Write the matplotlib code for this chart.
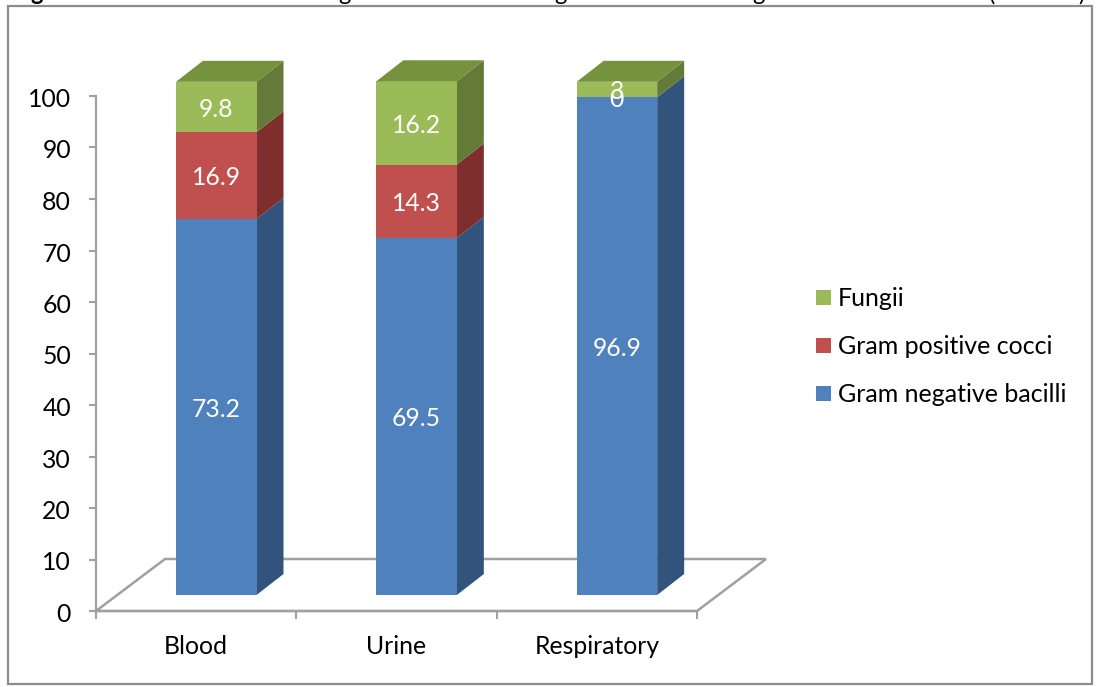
import matplotlib
matplotlib.use("Agg")
import matplotlib.pyplot as plt
from matplotlib.patches import Polygon, Rectangle
from matplotlib.transforms import ScaledTranslation

plt.rcParams["font.family"] = ["Lato", "DejaVu Sans"]

sites = ["Blood", "Urine", "Respiratory"]
gram_negative = [73.2, 69.5, 96.9]
gram_positive = [16.9, 14.3, 0]
fungi = [9.8, 16.2, 3]
y_ticks = list(range(0, 101, 10))

W, H = 1096, 687
fig = plt.figure(figsize=(W / 100, H / 100), dpi=100)
fig.patch.set_facecolor("white")

# Plot area in pixels: x 96..697 spans the three categories, y 611..96 spans 0..100
ax = fig.add_axes([96 / W, 1 - 611 / H, (697 - 96) / W, (611 - 96) / H])
ax.set_xlim(0, 3)
ax.set_ylim(0, 100)
ax.patch.set_alpha(0)
px = 3 / (697 - 96)
py = 100 / (611 - 96)

GRID = "#a0a0a0"
for side in ("top", "right"):
    ax.spines[side].set_visible(False)
for side in ("left", "bottom"):
    ax.spines[side].set_color(GRID)
    ax.spines[side].set_linewidth(1.6)

ax.set_yticks(y_ticks)
ax.set_xticks(range(4))
ax.set_xticklabels([])
ax.set_xticks([0.5, 1.5, 2.5], minor=True)
ax.set_xticklabels(sites, minor=True)
ax.tick_params(axis="x", which="minor", length=0, pad=17, labelsize=17.8, colors="black")
ax.tick_params(axis="x", which="major", length=6, width=1.5, color=GRID)
ax.tick_params(axis="y", length=5, width=1.5, color=GRID, labelsize=17.8, pad=13, labelcolor="black")

# Nudge the value axis labels down to sit centred on their ticks
nudge = ScaledTranslation(0, -1.5 / 100, fig.dpi_scale_trans)
for label in ax.get_yticklabels():
    label.set_transform(label.get_transform() + nudge)

# Floor of the 3D box
floor_dx, floor_dy = 69 * px, 52 * py
ax.add_patch(Polygon([(0, 0), (floor_dx, floor_dy), (3 + floor_dx, floor_dy), (3, 0)],
                     closed=True, fill=False, edgecolor=GRID, linewidth=1.8,
                     clip_on=False, zorder=1))

# Column geometry
depth_x, depth_y = 27 * px, 21 * py
bar_w = 80.5 * px
bar_off = 80 * px
base = 16 * py
scale = 0.9975

palette = [
    ("#4f81bd", "#31537c"),
    ("#c0504d", "#7e2f2d"),
    ("#9bbb59", "#647a38"),
]
roof = "#76923c"
series = [gram_negative, gram_positive, fungi]

for i in range(len(sites)):
    x0 = i + bar_off
    x1 = x0 + bar_w
    bottom = base
    for values, (front, shade) in zip(series, palette):
        h = values[i] * scale
        if h > 0:
            ax.add_patch(Polygon([(x1, bottom), (x1 + depth_x, bottom + depth_y),
                                  (x1 + depth_x, bottom + h + depth_y), (x1, bottom + h)],
                                 closed=True, facecolor=shade, edgecolor="none",
                                 clip_on=False, zorder=3))
            ax.add_patch(Rectangle((x0, bottom), bar_w, h, facecolor=front,
                                   edgecolor="none", clip_on=False, zorder=3))
        ax.text((x0 + x1) / 2, bottom + h / 2 - 0.45, f"{values[i]:g}", color="white",
                ha="center", va="center", fontsize=17.8, zorder=5)
        bottom += h
    ax.add_patch(Polygon([(x0, bottom), (x0 + depth_x, bottom + depth_y),
                          (x1 + depth_x, bottom + depth_y), (x1, bottom)],
                         closed=True, facecolor=roof, edgecolor="none",
                         clip_on=False, zorder=3))

# Legend entries, laid out by hand in figure pixels
legend_names = ["Fungii", "Gram positive cocci", "Gram negative bacilli"]
legend_y = [297.5, 345.5, 393.5]
legend_colors = [palette[2][0], palette[1][0], palette[0][0]]
for name, y, color in zip(legend_names, legend_y, legend_colors):
    fig.add_artist(Rectangle((816 / W, 1 - (y + 7.5) / H), 15 / W, 15 / H,
                             facecolor=color, edgecolor="none", transform=fig.transFigure))
    fig.text(838 / W, 1 - (y + 0.5) / H, name, fontsize=18, va="center", ha="left", color="black")

# Outer frame of the chart
fig.add_artist(Rectangle((8 / W, 1 - 684 / H), (1092 - 8) / W, (684 - 6) / H, fill=False,
                         edgecolor="#8c8c8c", linewidth=1.6, transform=fig.transFigure))

# Descenders of the caption line above the frame, cut off by the top edge
caption_glyphs = [("g", 37, "bold"), ("g", 344, "normal"), ("g", 560, "normal"),
                  ("g", 758, "normal"), ("(", 992, "normal"), (")", 1081, "normal")]
for glyph, x, weight in caption_glyphs:
    fig.text(x / W, 1 - 0.5 / H, glyph, fontsize=17, fontweight=weight, ha="center",
             va="baseline", color="black")

fig.savefig("out.png", dpi=100)
